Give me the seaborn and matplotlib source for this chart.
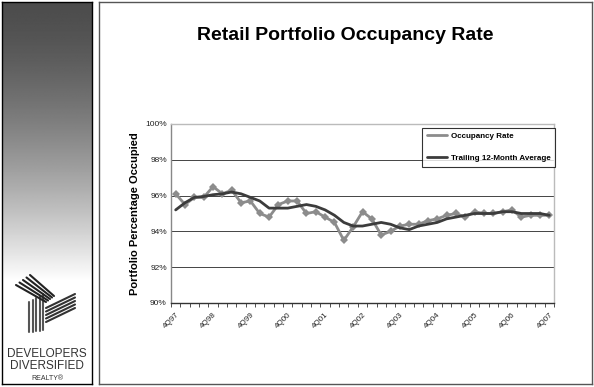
import numpy as np
import pandas as pd
import matplotlib
matplotlib.use("Agg")
import matplotlib.pyplot as plt
import seaborn as sns

# datos (4Q97 .. 4Q07, trimestral)
years = ["97", "98", "99", "00", "01", "02", "03", "04", "05", "06", "07"]
quarters = ["4Q97"] + [f"{q}Q{y}" for y in years[1:] for q in (1, 2, 3, 4)]
occupancy = [96.1, 95.5, 95.9, 95.9, 96.5, 96.1, 96.3, 95.6, 95.7, 95.0,
             94.8, 95.5, 95.7, 95.7, 95.0, 95.1, 94.8, 94.5, 93.5, 94.25,
             95.1, 94.7, 93.8, 94.0, 94.3, 94.4, 94.4, 94.6, 94.7, 94.9,
             95.0, 94.8, 95.1, 95.0, 95.0, 95.1, 95.2, 94.8, 94.9, 94.9, 94.9]
trailing = [95.2, 95.6, 95.9, 95.95, 96.05, 96.1, 96.2, 96.1, 95.9, 95.7,
            95.3, 95.3, 95.3, 95.4, 95.5, 95.4, 95.2, 94.9, 94.5, 94.3,
            94.3, 94.4, 94.5, 94.4, 94.2, 94.1, 94.3, 94.4, 94.5, 94.7,
            94.8, 94.9, 95.0, 95.0, 95.0, 95.1, 95.1, 95.0, 95.0, 95.0, 94.9]
tick_labels = ["4Q97", "4Q98", "4Q99", "4Q00", "4Q01", "4Q02",
               "4Q03", "4Q04", "4Q05", "4Q06", "4Q07"]

df = pd.DataFrame({"quarter": quarters, "idx": np.arange(len(quarters)),
                   "Occupancy Rate": occupancy,
                   "Trailing 12-Month Average": trailing})

sns.set_style("white")
plt.rcParams["font.family"] = ["Liberation Sans", "DejaVu Sans"]
plt.rcParams["text.color"] = "black"

W, H = 594, 387
fig = plt.figure(figsize=(W / 100, H / 100), dpi=100)
fig.patch.set_facecolor("white")

def px_axes(x0, y0, x1, y1):
    return fig.add_axes([x0 / W, 1 - y1 / H, (x1 - x0) / W, (y1 - y0) / H])

# panel izquierdo con degradado y logo
left = px_axes(2, 2, 92, 384)
t = np.linspace(0, 1, 400)
shade = np.clip(0.30 + 0.70 * np.clip(t / 0.73, 0, 1) ** 1.5, 0, 1)
left.imshow(np.tile(shade[:, None], (1, 10)), cmap="gray", vmin=0, vmax=1,
            aspect="auto", extent=[0, 90, 382, 0])
left.set_xlim(0, 90)
left.set_ylim(382, 0)
left.set_xticks([])
left.set_yticks([])
for s in left.spines.values():
    s.set_color("black")
    s.set_linewidth(1)
# logo aproximado
for k in range(5):
    left.plot([27 + k * 3.5, 27 + k * 3.5], [300 - k * 2, 330 - k * 0.5],
              color="#555555", lw=1.5)
for k in range(5):
    left.plot([14 + k * 3.5, 44 + k * 2], [283 - k * 2.5, 300 - k * 1.5],
              color="#222222", lw=1.5)
for k in range(5):
    left.plot([44, 73], [306 + k * 3.5, 292 + k * 3.5], color="#333333",
              lw=1.5)
left.text(45, 352, "DEVELOPERS", ha="center", va="center", fontsize=8.5,
          color="#333333")
left.text(45, 364, "DIVERSIFIED", ha="center", va="center", fontsize=8.5,
          color="#333333")
left.text(45, 376, "REALTY\u00ae", ha="center", va="center", fontsize=5,
          color="#333333")

# panel derecho
right = px_axes(99, 2, 592, 384)
right.set_xticks([])
right.set_yticks([])
for s in right.spines.values():
    s.set_color("#555555")
    s.set_linewidth(1)
fig.text(345 / W, 1 - 35 / H, "Retail Portfolio Occupancy Rate", ha="center",
         va="center", fontsize=14, fontweight="bold", color="black")

# grafico
ax = px_axes(171, 124, 554, 303)
sns.lineplot(data=df, x="idx", y="Occupancy Rate", ax=ax, color="#8c8c8c",
             lw=2, marker="D", markersize=4.5, markeredgewidth=0,
             label="Occupancy Rate")
sns.lineplot(data=df, x="idx", y="Trailing 12-Month Average", ax=ax,
             color="#3c3c3c", lw=2, label="Trailing 12-Month Average")
ax.set_xlim(-0.5, len(quarters) - 0.5)
ax.set_ylim(90, 100)
ax.set_yticks(np.arange(90, 101, 2))
ax.set_yticklabels([f"{v}%" for v in range(90, 101, 2)], fontsize=6,
                   color="#222222")
ax.yaxis.grid(True, color="#444444", lw=0.7)
ax.set_xticks(np.arange(0, len(quarters), 4))
ax.set_xticklabels(tick_labels, rotation=45, ha="right",
                   rotation_mode="anchor", fontsize=5.8, color="#222222")
ax.set_xticks(np.arange(-0.5, len(quarters)), minor=True)
ax.tick_params(axis="x", which="major", length=0, pad=6)
ax.tick_params(axis="x", which="minor", length=3, color="#333333",
               direction="out", bottom=True)
ax.tick_params(axis="y", length=0, pad=3)
ax.set_xlabel("")
ax.set_ylabel("Portfolio Percentage Occupied", fontsize=8, fontweight="bold",
              labelpad=4, color="black")
ax.spines["left"].set_color("#888888")
ax.spines["bottom"].set_color("#333333")
ax.spines["top"].set_color("#bbbbbb")
ax.spines["right"].set_color("#bbbbbb")
for s in ax.spines.values():
    s.set_linewidth(1)
leg = ax.legend(loc="upper right", fontsize=5.8, frameon=True, fancybox=False,
                edgecolor="black", borderpad=0.55, labelspacing=1.8,
                handlelength=2.5, handletextpad=0.5, borderaxespad=0,
                bbox_to_anchor=(1.003, 0.978))
leg.get_frame().set_linewidth(0.8)
for t in leg.get_texts():
    t.set_fontweight("bold")
for h in leg.get_lines():
    h.set_marker("")

fig.savefig("out.png", dpi=100)
